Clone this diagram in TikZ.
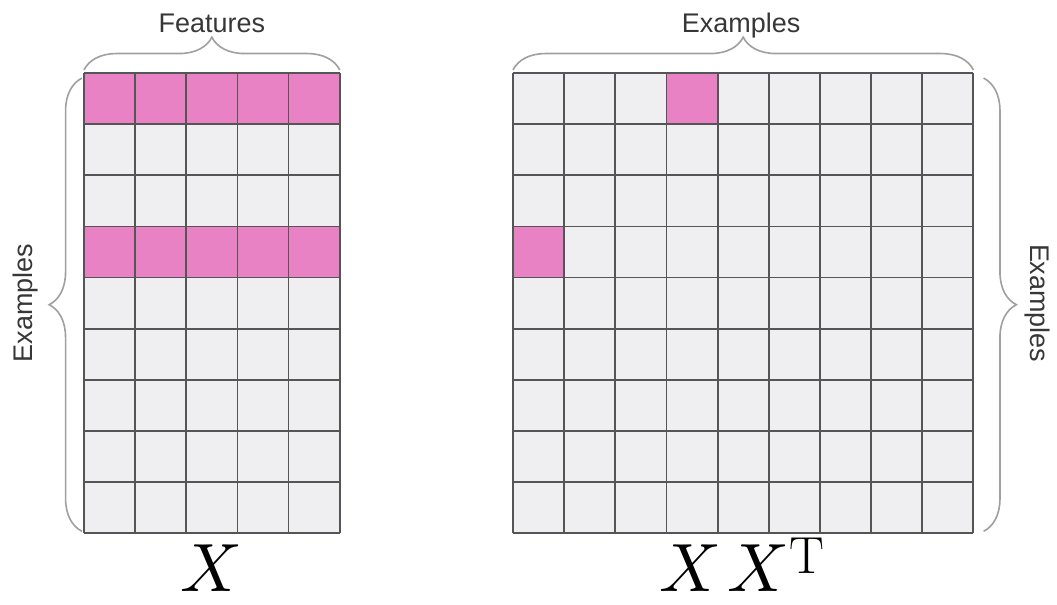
\documentclass[tikz,border=0pt]{standalone}
\usepackage{fontspec}
\usepackage{unicode-math}
\setsansfont{Liberation Sans}
\usetikzlibrary{decorations.pathreplacing}
\definecolor{cellpink}{RGB}{233,130,196}
\definecolor{cellgrey}{RGB}{239,239,242}
\definecolor{gridline}{RGB}{85,85,85}
\definecolor{bracegrey}{RGB}{160,160,160}
\definecolor{labelgrey}{RGB}{55,55,55}
\begin{document}
\begin{tikzpicture}[x=1cm,y=1cm,
  brc/.style={decorate,decoration={brace,amplitude=0.64cm},draw=bracegrey,line width=0.9pt},
  lbl/.style={font=\sffamily\fontsize{15}{18}\selectfont,text=labelgrey,inner sep=0pt},
  big/.style={font=\fontsize{38}{40}\selectfont,inner sep=0pt,anchor=base}]
  \useasboundingbox (0,0) rectangle (20.665,11.828);
  % left matrix X (5 features x 9 examples)
  \begin{scope}[shift={(1.642,1.401)}]
    \fill[cellgrey] (0,0) rectangle (5,9);
    \fill[cellpink] (0,8) rectangle (5,9);
    \fill[cellpink] (0,5) rectangle (5,6);
    \draw[gridline,line width=1pt] (0,0) grid (5,9);
    \coordinate (xsw) at (0,0);
    \coordinate (xnw) at (0,9);
    \coordinate (xne) at (5,9);
  \end{scope}
  % right matrix XX^T (9 x 9)
  \begin{scope}[shift={(10.03,1.401)}]
    \fill[cellgrey] (0,0) rectangle (9,9);
    \fill[cellpink] (3,8) rectangle (4,9);
    \fill[cellpink] (0,5) rectangle (1,6);
    \draw[gridline,line width=1pt] (0,0) grid (9,9);
    \coordinate (gsw) at (0,0);
    \coordinate (gnw) at (0,9);
    \coordinate (gne) at (9,9);
    \coordinate (gse) at (9,0);
  \end{scope}
  % braces
  \draw[brc] ([yshift=0.06cm]xnw) -- ([yshift=0.06cm]xne);
  \draw[brc] ([xshift=-0.04cm,yshift=0.04cm]xsw) -- ([xshift=-0.04cm,yshift=-0.1cm]xnw);
  \draw[brc] ([yshift=0.06cm]gnw) -- ([yshift=0.06cm]gne);
  \draw[brc] ([xshift=0.2cm,yshift=-0.1cm]gne) -- ([xshift=0.2cm,yshift=0.04cm]gse);
  % labels
  \node[lbl,anchor=base] (feat) at (4.142,11.20) {Features};
  \node[lbl,anchor=base] (exltop) at (14.49,11.20) {Examples};
  \node[lbl,anchor=base,rotate=90] (exleft) at (0.645,5.90) {Examples};
  \node[lbl,anchor=base,rotate=-90] (exright) at (20.14,5.90) {Examples};
  \node[big] (matx) at (4.12,0.254) {$X$};
  \node[big] (matxxt) at (14.5,0.254) {$X\mkern2mu X$\kern0.04cm\raisebox{0.37cm}{\fontsize{29}{29}\selectfont T}};
\end{tikzpicture}
\end{document}
